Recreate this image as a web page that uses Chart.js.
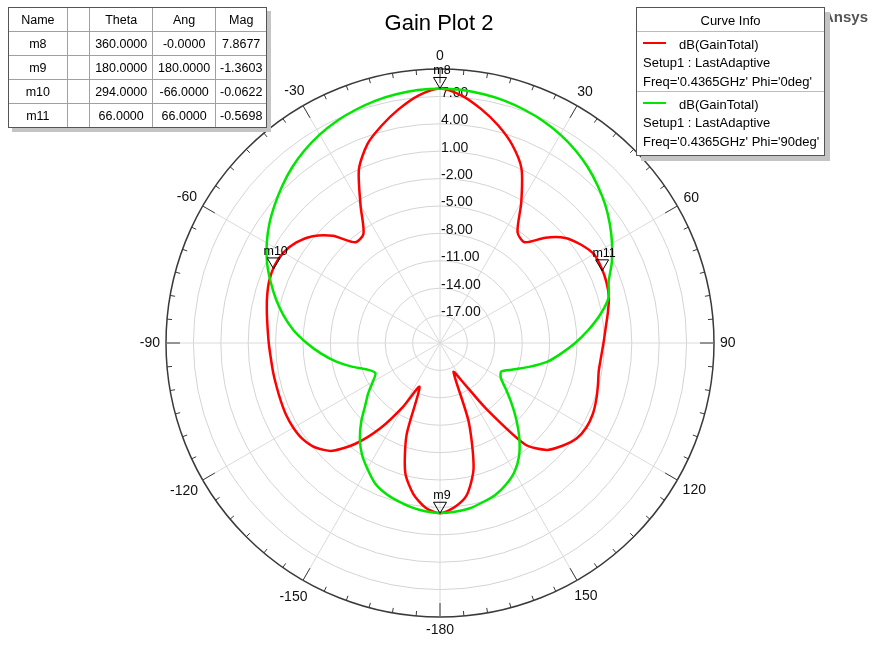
<!DOCTYPE html>
<html>
<head>
<meta charset="utf-8">
<title>Gain Plot 2</title>
<script src="https://cdn.jsdelivr.net/npm/chart.js@4.4.1/dist/chart.umd.min.js"></script>
<style>
  body { margin: 0; background: #fff; font-family: "Liberation Sans", Arial, sans-serif; color: #000; }
  #wrap { position: relative; width: 876px; height: 645px; overflow: hidden; }
  #chart { position: absolute; left: 0; top: 0; }
  #title { position: absolute; left: 0; width: 878px; top: 10px; text-align: center; font-size: 22px; line-height: 26px; }
  #ansys { position: absolute; left: 823px; top: 8px; font-size: 15px; font-weight: bold; color: #555; }
  #markerBox { position: absolute; left: 8px; top: 7px; width: 257px; border: 1px solid #555; background: #fff; box-shadow: 4px 4px 0 #c4c4c4; }
  #markerBox table { border-collapse: collapse; border-style: hidden; width: 100%; font-size: 12.5px; }
  #markerBox td { border: 1px solid #a0a0a0; height: 23px; padding: 0; text-align: center; }
  #curveInfo { position: absolute; left: 636px; top: 7px; width: 187px; height: 147px; border: 1px solid #555; background: #fff; box-shadow: 5px 5px 0 #c4c4c4; font-size: 13px; }
  #curveInfo div { position: absolute; white-space: nowrap; line-height: 16px; }
  #curveInfo .sep { left: 0; right: 0; height: 0; border-top: 1px solid #bbb; }
  #curveInfo .swatch { left: 6px; width: 23px; height: 0; border-top: 2px solid; }
</style>
</head>
<body>
<div id="wrap">
  <canvas id="chart" width="876" height="645"></canvas>
  <div id="title">Gain Plot 2</div>
  <div id="ansys">Ansys</div>
  <div id="markerBox"><table id="markerTable"></table></div>
  <div id="curveInfo"></div>
</div>
<script>
// theta in degrees, 5 deg steps, 0 at top, clockwise
const thetas = Array.from({ length: 72 }, (_, i) => i * 5);

// dB(GainTotal), Phi = 0deg  (0..180, then 185..355)
const gainPhi0 = [
  7.87, 7.2, 6.0, 4.65, 3.1, 1.1, -2.2, -5.2, -5.6, -3.7,
  -2.1, -1.2, -0.55, -0.5, -0.6, -0.85, -1.35, -1.8, -2.1, -2.3,
  -2.35, -2.1, -1.8, -1.55, -1.5, -1.75, -2.5, -3.45, -5.5, -11.3,
  -15.2, -16.5, -10.8, -5.8, -3.1, -1.95, -1.36,
  -1.9, -3.2, -5.3, -9.3, -14.7, -12.0, -8.6, -5.6, -3.3, -2.2,
  -1.65, -1.45, -1.4, -1.45, -1.48, -1.45, -1.4, -1.25, -1.05, -0.75,
  -0.4, -0.1, 0.0, -0.2, -0.8, -1.8, -3.4, -5.6, -5.4, -2.6,
  1.0, 3.2, 4.65, 6.0, 7.2
];

// dB(GainTotal), Phi = 90deg
const gainPhi90 = [
  7.85, 7.8, 7.65, 7.45, 7.15, 6.8, 6.35, 5.8, 5.15, 4.4,
  3.6, 2.7, 1.75, 0.75, -0.35, -0.9, -2.2, -3.7, -5.2, -6.7,
  -8.1, -9.9, -11.5, -12.6, -12.3, -11.2, -9.8, -8.2, -6.5, -4.9,
  -3.7, -2.9, -2.3, -1.95, -1.6, -1.45, -1.38,
  -1.5, -1.75, -2.1, -2.5, -3.1, -4.1, -5.1, -6.35, -7.8, -9.3,
  -10.4, -11.5, -12.2, -11.5, -10.0, -8.4, -6.9, -5.4, -3.9, -2.6,
  -1.4, -0.25, 0.9, 1.9, 2.8, 3.6, 4.4, 5.15, 5.8, 6.35,
  6.8, 7.15, 7.45, 7.65, 7.8
];

const radialTicks = [-17, -14, -11, -8, -5, -2, 1, 4, 7];
const angleTickLabels = ["0", "30", "60", "90", "120", "150", "-180", "-150", "-120", "-90", "-60", "-30"];

const markerNames = ["m8", "m9", "m10", "m11"];
const markerTheta = [360, 180, 294, 66];
const markerAng = ["-0.0000", "180.0000", "-66.0000", "66.0000"];
const markerMag = [7.8677, -1.3603, -0.0622, -0.5698];

const curveNames = ["dB(GainTotal)", "dB(GainTotal)"];
const curveSetups = ["Setup1 : LastAdaptive", "Setup1 : LastAdaptive"];
const curveFreqs = ["Freq='0.4365GHz' Phi='0deg'", "Freq='0.4365GHz' Phi='90deg'"];
const curveColors = ["#ff0000", "#00e600"];

/* ================= MARKER TABLE ================= */
function buildMarkerTable() {
  const t = document.getElementById("markerTable");
  const widths = [59, 23, 62, 63, 50];
  let html = "<tr>" + ["Name", "", "Theta", "Ang", "Mag"]
    .map((h, i) => `<td style="width:${widths[i]}px">${h}</td>`).join("") + "</tr>";
  markerNames.forEach((n, i) => {
    html += `<tr><td>${n}</td><td></td><td>${markerTheta[i].toFixed(4)}</td>` +
      `<td>${markerAng[i]}</td><td>${markerMag[i].toFixed(4)}</td></tr>`;
  });
  t.innerHTML = html;
}

/* ================= CURVE INFO ================= */
function buildCurveInfo() {
  const box = document.getElementById("curveInfo");
  let html = `<div style="left:0;right:0;text-align:center;top:5px">Curve Info</div>`;
  html += `<div class="sep" style="top:23px"></div>`;
  curveNames.forEach((n, i) => {
    const y = 27 + i * 60;
    html += `<div class="swatch" style="top:${y + 7}px;border-color:${curveColors[i]}"></div>`;
    html += `<div style="left:42px;top:${y + 2}px">${n}</div>`;
    html += `<div style="left:6px;top:${y + 20}px">${curveSetups[i]}</div>`;
    html += `<div style="left:6px;top:${y + 39}px">${curveFreqs[i]}</div>`;
    if (i === 0) html += `<div class="sep" style="top:${y + 56}px"></div>`;
  });
  box.innerHTML = html;
}

/* ================= POLAR DECORATION ================= */
const polarDecor = {
  id: "polarDecor",
  beforeDatasetsDraw(chart) {
    const ctx = chart.ctx;
    const s = chart.scales.r;
    const R = s.drawingArea;
    ctx.save();
    // outer ticks, every 5 deg, long every 30 deg
    ctx.strokeStyle = "#3a3a3a";
    ctx.lineWidth = 1;
    for (let i = 0; i < thetas.length; i++) {
      const len = i % 6 === 0 ? 14 : 5;
      const a = s.getPointPosition(i, R);
      const b = s.getPointPosition(i, R - len);
      ctx.beginPath();
      ctx.moveTo(a.x, a.y);
      ctx.lineTo(b.x, b.y);
      ctx.stroke();
    }
    // angle labels
    ctx.font = '14px "Liberation Sans", Arial, sans-serif';
    ctx.fillStyle = "#111";
    ctx.textAlign = "center";
    ctx.textBaseline = "middle";
    angleTickLabels.forEach((txt, k) => {
      const ang = k * 30 * Math.PI / 180;
      const w = ctx.measureText(txt).width;
      const off = 6 + Math.abs(Math.sin(ang)) * w / 2 + Math.abs(Math.cos(ang)) * 7;
      const p = s.getPointPosition(k * 6, R + off);
      ctx.fillText(txt, p.x, p.y);
    });
    // radial tick labels on the 0 deg line
    ctx.textAlign = "left";
    radialTicks.forEach(v => {
      const d = s.getDistanceFromCenterForValue(v);
      ctx.fillText(v.toFixed(2), s.xCenter + 1, s.yCenter - d - 3.5);
    });
    ctx.restore();
  },
  afterDatasetsDraw(chart) {
    const ctx = chart.ctx;
    const s = chart.scales.r;
    ctx.save();
    ctx.strokeStyle = "#000";
    ctx.fillStyle = "#000";
    ctx.lineWidth = 1;
    ctx.font = '12.5px "Liberation Sans", Arial, sans-serif';
    ctx.textAlign = "center";
    ctx.textBaseline = "alphabetic";
    markerNames.forEach((n, i) => {
      const p = s.getPointPosition((markerTheta[i] % 360) / 5, s.getDistanceFromCenterForValue(markerMag[i]));
      ctx.beginPath();
      ctx.moveTo(p.x, p.y);
      ctx.lineTo(p.x - 6.5, p.y - 11);
      ctx.lineTo(p.x + 6.5, p.y - 11);
      ctx.closePath();
      ctx.stroke();
      ctx.fillText(n, p.x + 2, p.y - 14);
    });
    ctx.restore();
  }
};

/* ================= CHART ================= */
function drawChart() {
  new Chart(document.getElementById("chart"), {
    type: "radar",
    data: {
      labels: thetas,
      datasets: [
        { label: "Phi='0deg'", data: gainPhi0, borderColor: curveColors[0], borderWidth: 2.5, order: 1 },
        { label: "Phi='90deg'", data: gainPhi90, borderColor: curveColors[1], borderWidth: 2.5, order: 0 }
      ]
    },
    options: {
      responsive: false,
      animation: false,
      layout: { padding: { left: 166, right: 162, top: 69, bottom: 28 } },
      elements: {
        point: { radius: 0, hoverRadius: 0 },
        line: { tension: 0.25, fill: false }
      },
      plugins: { legend: { display: false }, tooltip: { enabled: false } },
      scales: {
        r: {
          min: -20,
          max: 10,
          startAngle: 0,
          ticks: { display: false, stepSize: 3 },
          pointLabels: { display: false },
          grid: {
            circular: true,
            color: c => (c.tick && c.tick.value === 10 ? "#3a3a3a" : "#d4d4d4"),
            lineWidth: c => (c.tick && c.tick.value === 10 ? 1.5 : 1)
          },
          angleLines: {
            display: true,
            color: c => (c.index % 6 === 0 ? "#dadada" : "rgba(0,0,0,0)"),
            lineWidth: 1
          }
        }
      }
    },
    plugins: [polarDecor]
  });
}

document.addEventListener("DOMContentLoaded", () => {
  buildMarkerTable();
  buildCurveInfo();
  drawChart();
});
</script>
</body>
</html>
